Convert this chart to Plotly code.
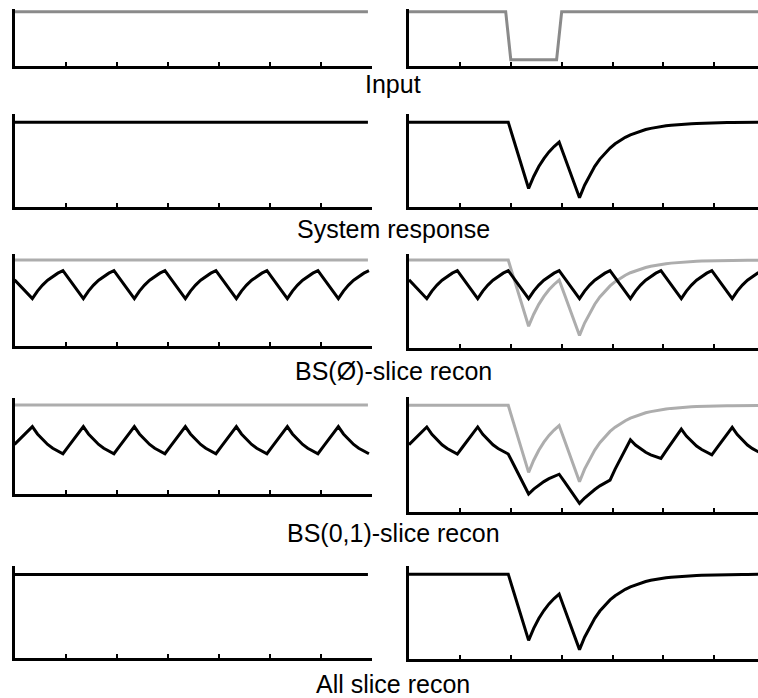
import plotly.graph_objects as go

W, H = 758, 698

# ---------------- data ----------------
time = [0.0, 0.05, 0.15, 0.25, 0.35, 0.45, 0.55, 0.65, 0.75, 0.85, 0.95,
        1.05, 1.15, 1.25, 1.35, 1.45, 1.55, 1.65, 1.75, 1.85, 1.95,
        2.05, 2.15, 2.25, 2.35, 2.45, 2.55, 2.65, 2.75, 2.85, 2.95,
        3.05, 3.15, 3.25, 3.35, 3.45, 3.55, 3.65, 3.75, 3.85, 3.95,
        4.05, 4.15, 4.25, 4.35, 4.45, 4.55, 4.65, 4.75, 4.85, 4.95,
        5.05, 5.15, 5.25, 5.35, 5.45, 5.55, 5.65, 5.75, 5.85, 5.95,
        6.05, 6.15, 6.25, 6.35, 6.45, 6.55, 6.65, 6.75, 6.85, 6.95]

const_time = [0.0, 6.93]
input_time = [0.0, 1.9, 2.0, 2.9, 3.0, 7.0]

input_steady = [1.0, 1.0]
input_dip = [1.0, 1.0, 0.0, 0.0, 1.0, 1.0]

response_steady = [1.0, 1.0]
response_dip = [1.0, 1.0, 1.0, 1.0, 1.0, 1.0, 1.0, 1.0, 1.0, 1.0, 1.0,
                1.0, 1.0, 1.0, 1.0, 1.0, 1.0, 1.0, 1.0, 1.0, 1.0,
                0.802, 0.605, 0.408, 0.21, 0.353, 0.471, 0.566, 0.645, 0.709, 0.762,
                0.597, 0.431, 0.266, 0.10, 0.248, 0.370, 0.473, 0.560, 0.632, 0.692,
                0.742, 0.784, 0.819, 0.849, 0.873, 0.894, 0.912, 0.926, 0.938, 0.948,
                0.957, 0.964, 0.970, 0.975, 0.979, 0.982, 0.985, 0.988, 0.990, 0.991,
                0.993, 0.994, 0.995, 0.996, 0.996, 0.997, 0.997, 0.998, 0.998, 0.998]

bs_empty_recon = [0.765, 0.733, 0.668, 0.604, 0.539, 0.629, 0.701, 0.759, 0.806, 0.844, 0.874,
                  0.790, 0.706, 0.623, 0.539, 0.629, 0.701, 0.759, 0.806, 0.844, 0.874,
                  0.790, 0.706, 0.623, 0.539, 0.629, 0.701, 0.759, 0.806, 0.844, 0.874,
                  0.790, 0.706, 0.623, 0.539, 0.629, 0.701, 0.759, 0.806, 0.844, 0.874,
                  0.790, 0.706, 0.623, 0.539, 0.629, 0.701, 0.759, 0.806, 0.844, 0.874,
                  0.790, 0.706, 0.623, 0.539, 0.629, 0.701, 0.759, 0.806, 0.844, 0.874,
                  0.790, 0.706, 0.623, 0.539, 0.629, 0.701, 0.759, 0.806, 0.844, 0.874]

bs01_recon_steady = [0.536, 0.566, 0.626, 0.686, 0.745, 0.659, 0.591, 0.535, 0.491, 0.455, 0.426,
                     0.506, 0.586, 0.665, 0.745, 0.659, 0.591, 0.535, 0.491, 0.455, 0.426,
                     0.506, 0.586, 0.665, 0.745, 0.659, 0.591, 0.535, 0.491, 0.455, 0.426,
                     0.506, 0.586, 0.665, 0.745, 0.659, 0.591, 0.535, 0.491, 0.455, 0.426,
                     0.506, 0.586, 0.665, 0.745, 0.659, 0.591, 0.535, 0.491, 0.455, 0.426,
                     0.506, 0.586, 0.665, 0.745, 0.659, 0.591, 0.535, 0.491, 0.455, 0.426,
                     0.506, 0.586, 0.665, 0.745, 0.659, 0.591, 0.535, 0.491, 0.455, 0.426]

bs01_recon_dip = [0.536, 0.566, 0.626, 0.686, 0.745, 0.659, 0.591, 0.535, 0.491, 0.455, 0.426,
                  0.506, 0.586, 0.665, 0.745, 0.659, 0.591, 0.535, 0.491, 0.455, 0.426,
                  0.308, 0.191, 0.073, -0.045, 0.012, 0.062, 0.101, 0.136, 0.164, 0.188,
                  0.103, 0.017, -0.069, -0.155, -0.093, -0.039, 0.008, 0.051, 0.087, 0.118,
                  0.248, 0.370, 0.484, 0.594, 0.532, 0.485, 0.447, 0.417, 0.393, 0.374,
                  0.463, 0.550, 0.635, 0.720, 0.638, 0.573, 0.520, 0.479, 0.445, 0.417,
                  0.499, 0.580, 0.660, 0.741, 0.655, 0.588, 0.532, 0.489, 0.453, 0.424]

all_slice_recon_steady = [1.0, 1.0]
all_slice_recon_dip = response_dip

row_titles = ["Input", "System response", "BS(Ø)-slice recon",
              "BS(0,1)-slice recon", "All slice recon"]

# ---------------- styling / layout ----------------
BLACK = "#000000"
GRAY_DARK = "#8a8a8a"
GRAY_LIGHT = "#adadad"
LW = 3

# pixel geometry of each panel: (top px, bottom px, y-range)
panel_geom = {
    (0, 0): (9.0, 65.5, [-0.122, 1.055]),
    (0, 1): (9.0, 65.5, [-0.122, 1.055]),
    (1, 0): (113.5, 206.8, [-0.005, 1.103]),
    (1, 1): (113.5, 206.5, [-0.005, 1.103]),
    (2, 0): (253.5, 345.8, [-0.025, 1.079]),
    (2, 1): (253.5, 347.8, [-0.048, 1.079]),
    (3, 0): (397.5, 493.5, [-0.043, 1.089]),
    (3, 1): (396.5, 512.0, [-0.257, 1.104]),
    (4, 0): (565.5, 657.8, [0.002, 1.109]),
    (4, 1): (566.0, 658.5, [-0.006, 1.097]),
}
col_x = {0: (14.5, 371.5, [0, 7]), 1: (409.0, 758.0, [0, 6.857])}
title_y_px = [84, 228.7, 370.5, 533.4, 684.4]
title_x_px = 393

traces = {
    (0, 0): [(const_time, input_steady, GRAY_DARK)],
    (0, 1): [(input_time, input_dip, GRAY_DARK)],
    (1, 0): [(const_time, response_steady, BLACK)],
    (1, 1): [(time, response_dip, BLACK)],
    (2, 0): [(const_time, response_steady, GRAY_LIGHT), (time, bs_empty_recon, BLACK)],
    (2, 1): [(time, response_dip, GRAY_LIGHT), (time, bs_empty_recon, BLACK)],
    (3, 0): [(const_time, response_steady, GRAY_LIGHT), (time, bs01_recon_steady, BLACK)],
    (3, 1): [(time, response_dip, GRAY_LIGHT), (time, bs01_recon_dip, BLACK)],
    (4, 0): [(const_time, all_slice_recon_steady, BLACK)],
    (4, 1): [(time, all_slice_recon_dip, BLACK)],
}

fig = go.Figure()
layout = dict(
    width=W, height=H,
    margin=dict(l=0, r=0, t=0, b=0),
    paper_bgcolor="white", plot_bgcolor="white",
    showlegend=False,
)

idx = 0
for r in range(5):
    for c in range(2):
        idx += 1
        top, bot, yr = panel_geom[(r, c)]
        x0, x1, xr = col_x[c]
        xa = "xaxis" if idx == 1 else f"xaxis{idx}"
        ya = "yaxis" if idx == 1 else f"yaxis{idx}"
        xref = "x" if idx == 1 else f"x{idx}"
        yref = "y" if idx == 1 else f"y{idx}"
        layout[xa] = dict(
            domain=[x0 / W, x1 / W], range=xr, anchor=yref,
            showline=True, linecolor=BLACK, linewidth=LW,
            ticks="inside", ticklen=4, tickwidth=2, tickcolor=BLACK,
            tick0=0, dtick=1, showticklabels=False,
            showgrid=False, zeroline=False, fixedrange=True,
        )
        layout[ya] = dict(
            domain=[1 - bot / H, 1 - top / H], range=yr, anchor=xref,
            showline=True, linecolor=BLACK, linewidth=LW,
            ticks="", showticklabels=False,
            showgrid=False, zeroline=False, fixedrange=True,
        )
        for (xs, ys, col) in traces[(r, c)]:
            fig.add_trace(go.Scatter(
                x=xs, y=ys, mode="lines",
                line=dict(color=col, width=LW),
                xaxis=xref, yaxis=yref, hoverinfo="skip",
            ))

annotations = []
for t, ypx in zip(row_titles, title_y_px):
    annotations.append(dict(
        text=t, xref="paper", yref="paper",
        x=title_x_px / W, y=1 - ypx / H,
        xanchor="center", yanchor="middle", showarrow=False,
        font=dict(family="Liberation Sans, Arial, sans-serif", size=25, color=BLACK),
    ))
layout["annotations"] = annotations

fig.update_layout(**layout)
fig.write_html("out.html")
